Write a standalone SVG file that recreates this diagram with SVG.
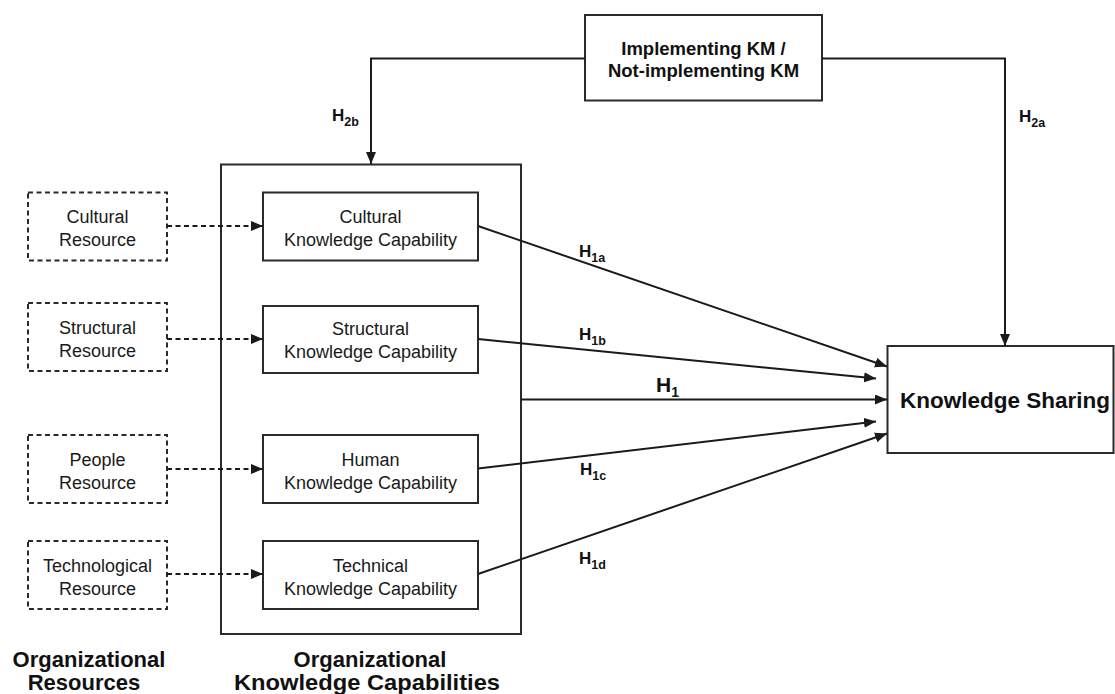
<svg xmlns="http://www.w3.org/2000/svg" width="1115" height="694" viewBox="0 0 1115 694">
<defs>
<marker id="arr" markerUnits="userSpaceOnUse" markerWidth="13" markerHeight="11" refX="12" refY="5" orient="auto">
<path d="M0,0 L12,5 L0,10 z" fill="#1a1a1a"/>
</marker>
<style>
.box{fill:#fff;stroke:#2a2a2a;stroke-width:2}
.dbox{fill:#fff;stroke:#2a2a2a;stroke-width:2;stroke-dasharray:5 3.5}
.ln{fill:none;stroke:#1a1a1a;stroke-width:2}
.dln{fill:none;stroke:#1a1a1a;stroke-width:2;stroke-dasharray:5 3.5}
.t{font-family:"Liberation Sans",Arial,sans-serif;font-size:18px;fill:#1a1a1a;text-anchor:middle}
.b{font-family:"Liberation Sans",Arial,sans-serif;font-weight:bold;fill:#111}
.c{text-anchor:middle}
</style>
</defs>
<rect width="1115" height="694" fill="#fff"/>

<g id="container">
<rect class="box" x="221" y="164.5" width="300" height="469.5"/>
</g>

<g id="km">
<rect class="box" x="585" y="15" width="237" height="85.5"/>
<text class="b c" x="703.5" y="55" font-size="18.5">Implementing KM /</text>
<text class="b c" x="703.5" y="77" font-size="18.5">Not-implementing KM</text>
</g>

<g id="ks">
<rect class="box" x="887.5" y="346" width="226" height="107"/>
<text class="b" x="900" y="408" font-size="22.5">Knowledge Sharing</text>
</g>

<g id="cultural-resource">
<rect class="dbox" x="28" y="192.5" width="139" height="68"/>
<text class="t" x="97.5" y="223">Cultural</text>
<text class="t" x="97.5" y="246">Resource</text>
</g>
<g id="structural-resource">
<rect class="dbox" x="28" y="303" width="139" height="68"/>
<text class="t" x="97.5" y="334">Structural</text>
<text class="t" x="97.5" y="357">Resource</text>
</g>
<g id="people-resource">
<rect class="dbox" x="28" y="435" width="139" height="68"/>
<text class="t" x="97.5" y="466">People</text>
<text class="t" x="97.5" y="489">Resource</text>
</g>
<g id="technological-resource">
<rect class="dbox" x="28" y="541" width="139" height="68"/>
<text class="t" x="97.5" y="572">Technological</text>
<text class="t" x="97.5" y="595">Resource</text>
</g>

<g id="cultural-capability">
<rect class="box" x="263" y="192.5" width="215" height="68"/>
<text class="t" x="370.5" y="223">Cultural</text>
<text class="t" x="370.5" y="246">Knowledge Capability</text>
</g>
<g id="structural-capability">
<rect class="box" x="263" y="306" width="215" height="67"/>
<text class="t" x="370.5" y="335">Structural</text>
<text class="t" x="370.5" y="358">Knowledge Capability</text>
</g>
<g id="human-capability">
<rect class="box" x="263" y="435" width="215" height="68"/>
<text class="t" x="370.5" y="466">Human</text>
<text class="t" x="370.5" y="489">Knowledge Capability</text>
</g>
<g id="technical-capability">
<rect class="box" x="263" y="541" width="215" height="68"/>
<text class="t" x="370.5" y="572">Technical</text>
<text class="t" x="370.5" y="595">Knowledge Capability</text>
</g>

<g id="connectors">
<line class="dln" x1="167" y1="226" x2="263" y2="226" marker-end="url(#arr)"/>
<line class="dln" x1="167" y1="339" x2="263" y2="339" marker-end="url(#arr)"/>
<line class="dln" x1="167" y1="469" x2="263" y2="469" marker-end="url(#arr)"/>
<line class="dln" x1="167" y1="574" x2="263" y2="574" marker-end="url(#arr)"/>

<line class="ln" x1="478" y1="226" x2="887" y2="366.5" marker-end="url(#arr)"/>
<line class="ln" x1="478" y1="339" x2="876" y2="378.5" marker-end="url(#arr)"/>
<line class="ln" x1="521" y1="399.5" x2="887" y2="399.5" marker-end="url(#arr)"/>
<line class="ln" x1="478" y1="468.5" x2="876" y2="421.5" marker-end="url(#arr)"/>
<line class="ln" x1="478" y1="574" x2="887" y2="433.5" marker-end="url(#arr)"/>

<polyline class="ln" points="585,58.5 371,58.5 371,164" marker-end="url(#arr)"/>
<polyline class="ln" points="822,58.5 1005,58.5 1005,346" marker-end="url(#arr)"/>
</g>

<g id="labels">
<text class="b" x="579" y="257" font-size="17">H<tspan font-size="12.5" dy="5">1a</tspan></text>
<text class="b" x="579" y="340" font-size="17">H<tspan font-size="12.5" dy="5">1b</tspan></text>
<text class="b" x="656" y="392" font-size="21">H<tspan font-size="14" dy="5">1</tspan></text>
<text class="b" x="580" y="475" font-size="17">H<tspan font-size="12.5" dy="5">1c</tspan></text>
<text class="b" x="579" y="563.5" font-size="17">H<tspan font-size="12.5" dy="5">1d</tspan></text>
<text class="b" x="332" y="121" font-size="17">H<tspan font-size="12.5" dy="5">2b</tspan></text>
<text class="b" x="1019" y="122" font-size="17">H<tspan font-size="12.5" dy="5">2a</tspan></text>
</g>

<g id="captions">
<text class="b c" x="89" y="667" font-size="22">Organizational</text>
<text class="b c" x="84" y="690" font-size="22">Resources</text>
<text class="b c" x="370" y="667" font-size="22">Organizational</text>
<text class="b c" x="367" y="690" font-size="22" textLength="266" lengthAdjust="spacingAndGlyphs">Knowledge Capabilities</text>
</g>
</svg>
